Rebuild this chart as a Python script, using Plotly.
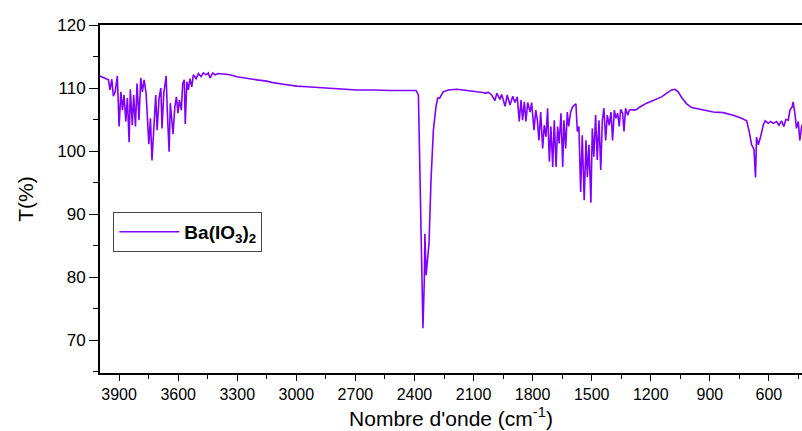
import plotly.graph_objects as go

wavenumber = [
    3997, 3971, 3954, 3946, 3937, 3929, 3920, 3909, 3900, 3891, 3883, 3875, 3866, 3858, 3849, 3843,
    3833, 3826, 3817, 3809, 3799, 3790, 3782, 3773, 3763, 3749, 3741, 3733, 3724, 3714, 3707, 3697,
    3688, 3682, 3673, 3661, 3655, 3646, 3640, 3632, 3626, 3617, 3609, 3601, 3594, 3584, 3577, 3569,
    3564, 3556, 3548, 3540, 3531, 3523, 3509, 3497, 3484, 3472, 3458, 3447, 3438, 3424, 3413, 3396,
    3371, 3337, 3302, 3252, 3201, 3150, 3125, 3066, 3032, 2998, 2947, 2863, 2778, 2693, 2609, 2524,
    2406, 2392, 2380, 2372, 2363, 2357, 2350, 2347, 2341, 2335, 2326, 2316, 2304, 2291, 2282, 2272,
    2262, 2254, 2228, 2186, 2152, 2118, 2084, 2051, 2042, 2025, 2016, 2008, 1991, 1982, 1966, 1957,
    1940, 1929, 1915, 1901, 1890, 1878, 1868, 1859, 1851, 1842, 1834, 1825, 1813, 1805, 1793, 1784,
    1776, 1768, 1759, 1749, 1741, 1732, 1724, 1715, 1707, 1698, 1690, 1681, 1673, 1665, 1656, 1647,
    1641, 1632, 1624, 1617, 1607, 1597, 1588, 1580, 1573, 1565, 1556, 1548, 1538, 1529, 1522, 1514,
    1504, 1497, 1489, 1480, 1472, 1463, 1454, 1446, 1438, 1429, 1421, 1411, 1402, 1394, 1385, 1377,
    1368, 1360, 1353, 1343, 1336, 1328, 1317, 1309, 1297, 1285, 1272, 1255, 1221, 1187, 1145, 1119,
    1094, 1077, 1061, 1043, 1018, 992, 950, 883, 832, 781, 739, 713, 700, 688, 676, 668,
    663, 654, 642, 629, 619, 603, 591, 578, 561, 549, 536, 524, 514, 502, 493, 482,
    477, 468, 460, 451, 443, 434, 425, 410,
]

transmittance = [
    111.9, 111.5, 111.3, 109.7, 111.4, 108.7, 109.4, 111.9, 103.9, 109.4, 106.5, 108.9, 104.7, 108.4, 101.4, 109.8,
    104.1, 108.9, 103.9, 110.7, 104.9, 111.6, 109.4, 111.3, 109.2, 101.1, 105.2, 98.5, 104.4, 108.9, 103.3, 108.4,
    110.0, 103.6, 109.2, 111.9, 106.2, 99.9, 107.6, 104.9, 102.7, 107.0, 108.6, 106.0, 108.1, 106.5, 110.7, 111.3,
    104.3, 111.0, 109.7, 111.5, 110.2, 112.1, 111.5, 112.3, 111.8, 112.4, 112.1, 112.4, 111.6, 112.4, 112.1, 112.3,
    112.2, 112.1, 111.8, 111.5, 111.3, 111.1, 110.9, 110.6, 110.4, 110.3, 110.2, 110.0, 109.8, 109.7, 109.7, 109.6,
    109.6, 109.6, 108.9, 95.4, 79.5, 71.9, 79.5, 86.9, 80.3, 82.7, 85.4, 95.4, 103.3, 107.0, 108.4, 108.4,
    108.9, 109.4, 109.7, 109.8, 109.7, 109.5, 109.4, 109.3, 109.2, 109.3, 109.0, 108.9, 108.0, 109.2, 108.2, 109.0,
    107.1, 108.9, 107.3, 108.7, 107.7, 108.6, 104.7, 108.1, 104.9, 107.8, 104.7, 107.7, 106.2, 107.7, 103.3, 106.5,
    104.9, 101.7, 106.2, 100.4, 104.1, 102.3, 106.8, 98.3, 103.9, 97.5, 104.9, 97.5, 103.9, 101.2, 106.0, 97.5,
    104.9, 100.4, 106.2, 103.9, 106.2, 107.0, 107.3, 107.5, 103.1, 103.9, 93.5, 102.5, 92.2, 101.7, 95.9, 101.0,
    91.8, 103.6, 99.1, 105.7, 98.6, 104.9, 97.0, 104.9, 106.8, 101.7, 105.7, 104.1, 106.2, 101.7, 106.5, 105.2,
    106.0, 103.9, 106.6, 106.0, 103.1, 106.8, 105.7, 106.5, 106.6, 106.5, 106.6, 107.0, 107.6, 108.1, 108.6, 109.2,
    109.7, 109.8, 109.4, 108.5, 107.5, 106.9, 106.6, 106.2, 106.1, 105.7, 105.2, 104.8, 103.1, 101.0, 100.3, 95.8,
    102.2, 101.0, 102.3, 104.1, 104.8, 104.4, 104.7, 104.4, 104.7, 104.1, 104.8, 103.9, 105.0, 104.9, 106.5, 107.0,
    107.8, 106.0, 103.6, 104.7, 101.7, 103.9, 104.5, 103.0,
]

x_tick_values = [3900, 3600, 3300, 3000, 2700, 2400, 2100, 1800, 1500, 1200, 900, 600]
y_tick_values = [70, 80, 90, 100, 110, 120]

series_name = "<b>Ba(IO<sub>3</sub>)<sub>2</sub></b>"
line_color = "#7F00FF"
font_family = "Arial, 'Liberation Sans', sans-serif"

fig = go.Figure()
fig.add_trace(go.Scatter(
    x=wavenumber, y=transmittance, mode="lines", name=series_name,
    line=dict(color=line_color, width=1.6),
))

fig.update_layout(
    width=802, height=431,
    margin=dict(l=100, r=0, t=25, b=58),
    plot_bgcolor="white", paper_bgcolor="white",
    font=dict(family=font_family, color="black", size=16),
    showlegend=True,
    legend=dict(
        x=0.019, y=0.463, xanchor="left", yanchor="top",
        bgcolor="white", bordercolor="#444", borderwidth=1,
        font=dict(family=font_family, size=19, color="black"),
        itemwidth=60, tracegroupgap=0,
    ),
)

fig.update_xaxes(
    range=[3997, 432], tickmode="array", tickvals=x_tick_values,
    ticks="outside", ticklen=6, tickwidth=1.2, tickcolor="black",
    minor=dict(tickmode="linear", tick0=0, dtick=150, ticks="outside", ticklen=4, tickwidth=1.2, tickcolor="black"),
    showline=True, linecolor="black", linewidth=1.5, mirror=True,
    showgrid=False, zeroline=False,
    tickfont=dict(size=16),
    title=dict(text="Nombre d'onde (cm<sup>-1</sup>)", font=dict(size=21), standoff=9),
)
fig.update_yaxes(
    range=[64.8, 120], tickmode="array", tickvals=y_tick_values,
    ticks="outside", ticklen=9, tickwidth=1.2, tickcolor="black",
    minor=dict(tickmode="linear", tick0=0, dtick=5, ticks="outside", ticklen=5, tickwidth=1.2, tickcolor="black"),
    showline=True, linecolor="black", linewidth=2,
    showgrid=False, zeroline=False,
    tickfont=dict(size=17),
    title=dict(text="T(%)", font=dict(size=21), standoff=18),
)

fig.write_html("out.html")
